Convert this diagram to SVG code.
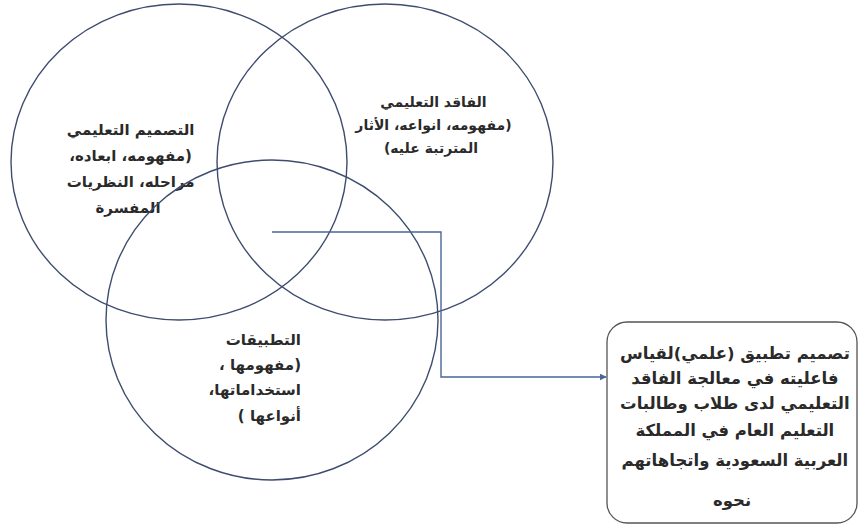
<svg xmlns="http://www.w3.org/2000/svg" width="864" height="528" viewBox="0 0 864 528">
<defs>
<style>
.c{fill:none;stroke:#3e4c6e;stroke-width:1.4}
.t{font-family:"DejaVu Sans","Noto Sans",sans-serif;font-size:15px;font-weight:bold;fill:#2a2a2a}
.b{font-size:16.5px}
.conn{fill:none;stroke:#4a659a;stroke-width:1.4}
.box{fill:#fff;stroke:#555;stroke-width:1.3}
</style>
<marker id="ah" viewBox="0 0 10 10" refX="9" refY="5" markerWidth="7" markerHeight="7" orient="auto" markerUnits="userSpaceOnUse">
<path d="M0,0 L10,5 L0,10 z" fill="#4a659a"/>
</marker>
</defs>
<rect width="864" height="528" fill="#fff"/>
<g id="circle-design">
<ellipse class="c" cx="179" cy="162" rx="168" ry="158"/>
<text class="t" direction="rtl" text-anchor="middle">
<tspan x="128" y="135">التصميم التعليمي</tspan>
<tspan x="128" y="161">(مفهومه، ابعاده،</tspan>
<tspan x="128" y="187">مراحله، النظريات</tspan>
<tspan x="128" y="213">المفسرة</tspan>
</text>
</g>
<g id="circle-loss">
<ellipse class="c" cx="385" cy="162" rx="168" ry="158"/>
<text class="t" direction="rtl" text-anchor="middle" style="font-size:14px">
<tspan x="431" y="107">الفاقد التعليمي</tspan>
<tspan x="431" y="130">(مفهومه، انواعه، الأثار</tspan>
<tspan x="431" y="153">المترتبة عليه)</tspan>
</text>
</g>
<g id="circle-apps">
<ellipse class="c" cx="272" cy="320" rx="166" ry="160"/>
<text class="t" direction="rtl" text-anchor="start">
<tspan x="301" y="345">التطبيقات</tspan>
<tspan x="301" y="370">(مفهومها ،</tspan>
<tspan x="301" y="395">استخداماتها،</tspan>
<tspan x="301" y="421">أنواعها )</tspan>
</text>
</g>
<g id="connectors">
<polyline class="conn" points="272,232 441,232 441,377 606,377" marker-end="url(#ah)"/>
</g>
<g id="box-result">
<rect class="box" x="607" y="322" width="250" height="201" rx="20" ry="20"/>
<text class="t b" direction="rtl" text-anchor="middle">
<tspan x="732" y="359">تصميم تطبيق  (علمي)لقياس</tspan>
<tspan x="732" y="384">فاعليته في معالجة الفاقد</tspan>
<tspan x="732" y="409">التعليمي لدى طلاب وطالبات</tspan>
<tspan x="732" y="436">التعليم العام في المملكة</tspan>
<tspan x="732" y="466">العربية السعودية واتجاهاتهم</tspan>
<tspan x="732" y="506">نحوه</tspan>
</text>
</g>
</svg>
